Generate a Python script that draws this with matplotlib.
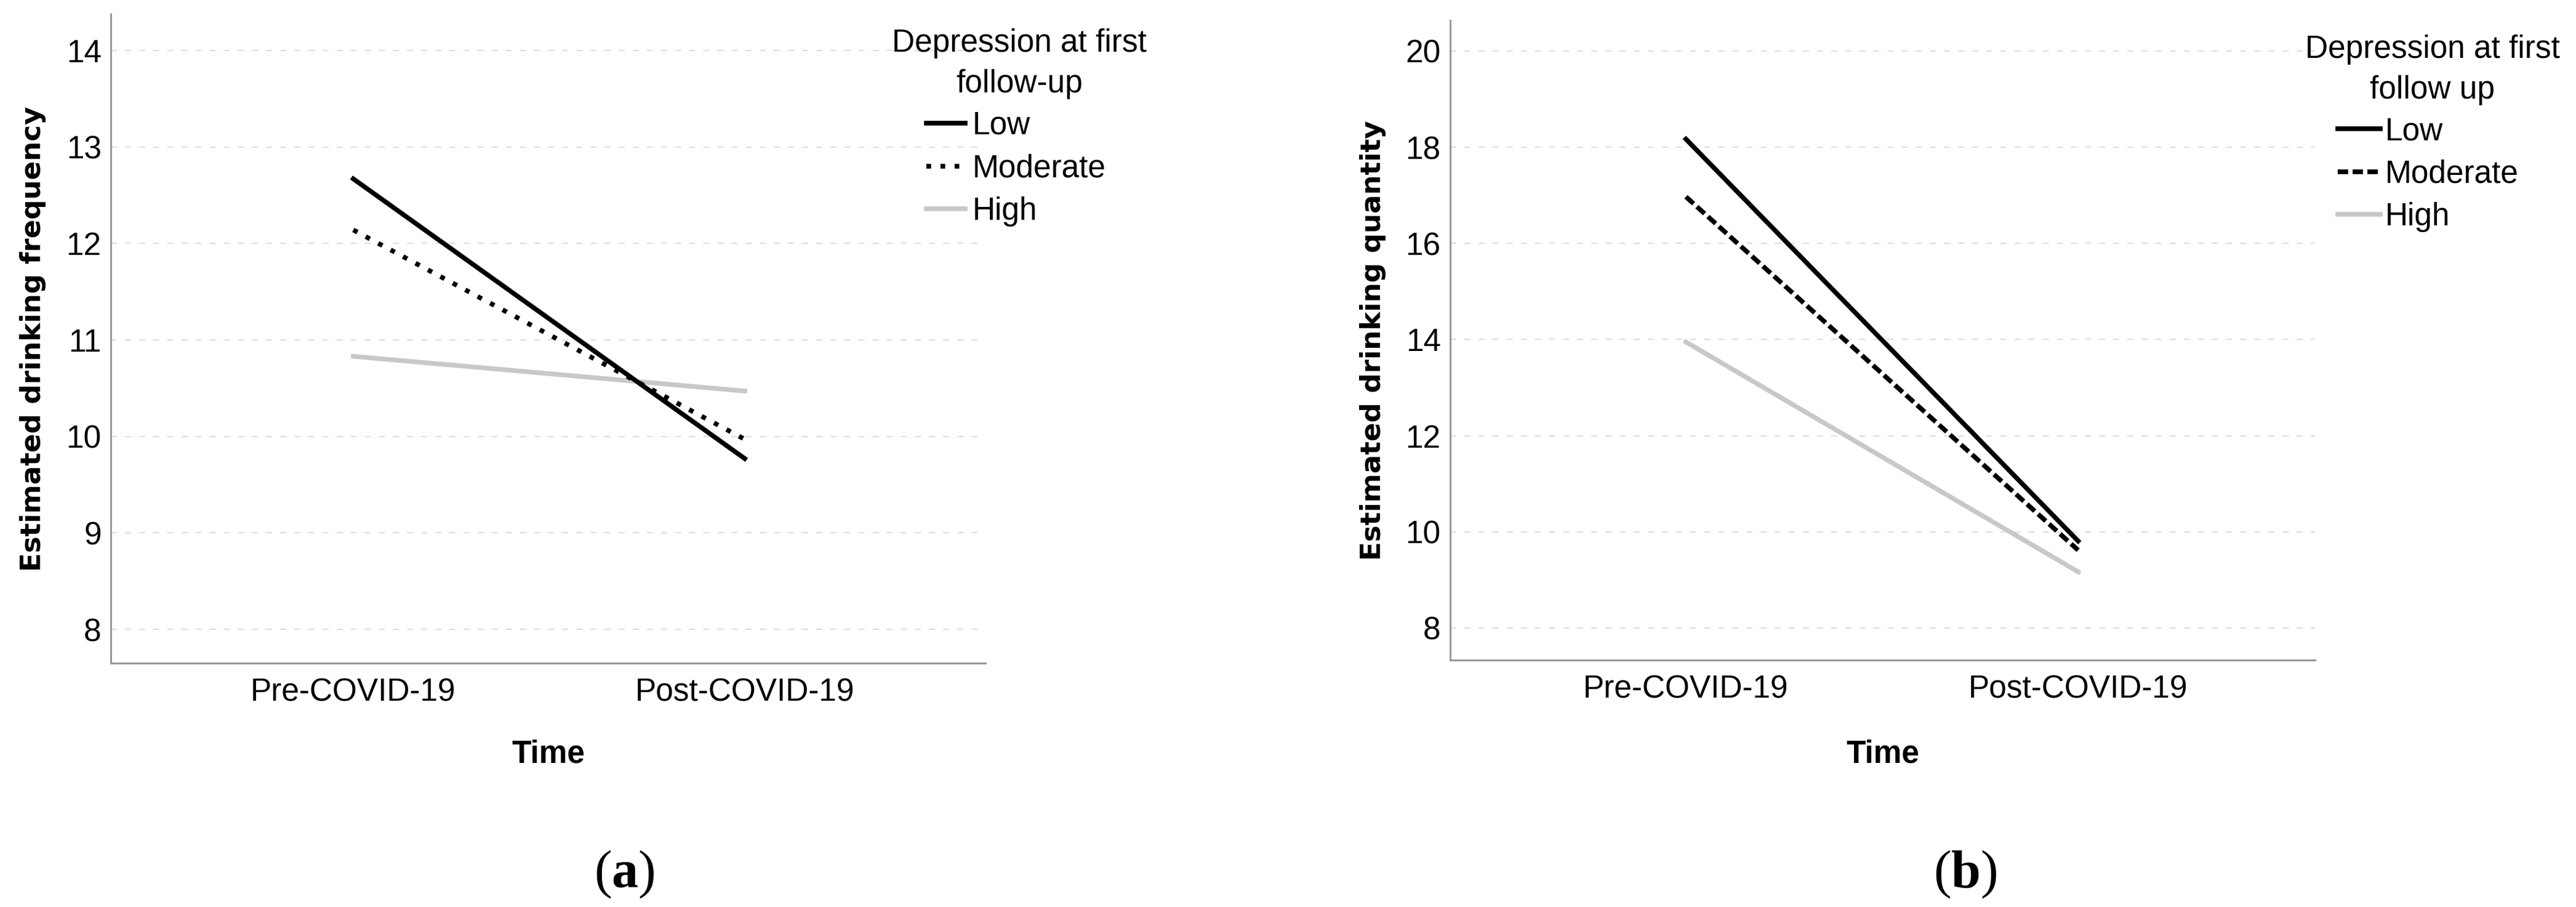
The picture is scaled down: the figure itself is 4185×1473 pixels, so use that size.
import matplotlib
matplotlib.use("Agg")
import matplotlib.pyplot as plt
from matplotlib.lines import Line2D

# ---------------- data ----------------
time_labels = ["Pre-COVID-19", "Post-COVID-19"]
groups = ["Low", "Moderate", "High"]

freq_low = [12.67, 9.77]
freq_moderate = [12.14, 9.97]
freq_high = [10.83, 10.47]

qty_low = [18.17, 9.81]
qty_moderate = [16.97, 9.62]
qty_high = [13.95, 9.17]

freq_ticks = [8, 9, 10, 11, 12, 13, 14]
qty_ticks = [8, 10, 12, 14, 16, 18, 20]

# ---------------- style ----------------
W, H = 4185, 1473
DPI = 100
plt.rcParams["font.family"] = ["Liberation Sans", "DejaVu Sans"]
plt.rcParams["mathtext.fontset"] = "custom"
plt.rcParams["mathtext.rm"] = "Liberation Serif"
plt.rcParams["mathtext.bf"] = "Liberation Serif:bold"

fig = plt.figure(figsize=(W / DPI, H / DPI), dpi=DPI)

def px_axes(l, t, r, b):
    return fig.add_axes([l / W, 1 - b / H, (r - l) / W, (b - t) / H])

LW = 5.5
grey_line = "#c8c8c8"
spine_c = "#9a9a9a"
tick_fs = 37

styles = {
    "Low": dict(color="black", lw=LW, ls="-"),
    "Moderate_a": dict(color="black", lw=LW, ls=(0, (1, 2)), dash_capstyle="butt"),
    "Moderate_b": dict(color="black", lw=LW, ls=(0, (2.2, 0.95)), dash_capstyle="butt"),
    "High": dict(color=grey_line, lw=LW, ls="-"),
}

def setup(ax, ticks, ylim, xlim, ylabel, ylab_x, xlab_y):
    ax.set_xlim(*xlim)
    ax.set_ylim(*ylim)
    ax.set_xticks([0, 1])
    ax.set_xticklabels(time_labels)
    ax.set_yticks(ticks)
    ax.set_yticklabels([str(t) for t in ticks])
    ax.tick_params(axis="both", length=0, labelsize=tick_fs)
    ax.tick_params(axis="y", pad=11)
    ax.tick_params(axis="x", pad=17)
    for s in ["top", "right"]:
        ax.spines[s].set_visible(False)
    for s in ["left", "bottom"]:
        ax.spines[s].set_color(spine_c)
        ax.spines[s].set_linewidth(2.2)
    ax.yaxis.grid(True, color="#dedede", lw=1.5, ls=(0, (4.8, 6.2)))
    ax.set_axisbelow(True)
    ax.set_ylabel(ylabel, fontsize=32.5, fontweight="bold",
                  family=["DejaVu Sans"])
    ax.yaxis.set_label_coords(ylab_x, 0.5)
    ax.set_xlabel("Time", fontsize=37, fontweight="bold")
    ax.xaxis.set_label_coords(0.5, xlab_y)

# ---------------- panel (a) ----------------
ax1 = px_axes(180, 23, 1601, 1077)
x = [0, 1]
ax1.plot(x, freq_high, **styles["High"])
ax1.plot(x, freq_moderate, **styles["Moderate_a"])
ax1.plot(x, freq_low, **styles["Low"])
setup(ax1, freq_ticks, (7.649, 14.377), (-0.6195, 1.615),
      "Estimated drinking frequency", -0.074, -0.117)

# ---------------- panel (b) ----------------
ax2 = px_axes(2356, 33, 3761, 1072)
ax2.plot(x, qty_high, **styles["High"])
ax2.plot(x, qty_moderate, **styles["Moderate_b"])
ax2.plot(x, qty_low, **styles["Low"])
setup(ax2, qty_ticks, (7.334, 20.64), (-0.601, 1.604),
      "Estimated drinking quantity", -0.074, -0.124)

# ---------------- legends ----------------
def legend(ax, mod_style, title, title_cx, title_top, hx, top, hlen, hpad):
    handles = [Line2D([], [], **styles["Low"]),
               Line2D([], [], **mod_style),
               Line2D([], [], **styles["High"])]
    leg = ax.legend(handles, groups, loc="upper left",
                    bbox_to_anchor=(hx / W, 1 - top / H),
                    bbox_transform=fig.transFigure, frameon=False,
                    fontsize=tick_fs, borderpad=0, borderaxespad=0,
                    handlelength=hlen, handletextpad=hpad, labelspacing=0.4)
    fig.text(title_cx / W, 1 - title_top / H, title, ha="center", va="top",
             fontsize=tick_fs, linespacing=1.45, multialignment="center")
    return leg

legend(ax1, styles["Moderate_a"], "Depression at first\nfollow-up",
       1656, 46, 1505, 180, 1.22, 0.23)
legend(ax2, styles["Moderate_b"], "Depression at first\nfollow up",
       3952, 56, 3798, 189, 1.34, 0.16)

# ---------------- panel letters ----------------
fig.text(1014 / W, 1 - 1420 / H, r"($\mathbf{a}$)", ha="center", va="center",
         fontsize=62, family="Liberation Serif")
fig.text(3193 / W, 1 - 1420 / H, r"($\mathbf{b}$)", ha="center", va="center",
         fontsize=62, family="Liberation Serif")

fig.savefig("out.png", dpi=DPI, facecolor="white")
